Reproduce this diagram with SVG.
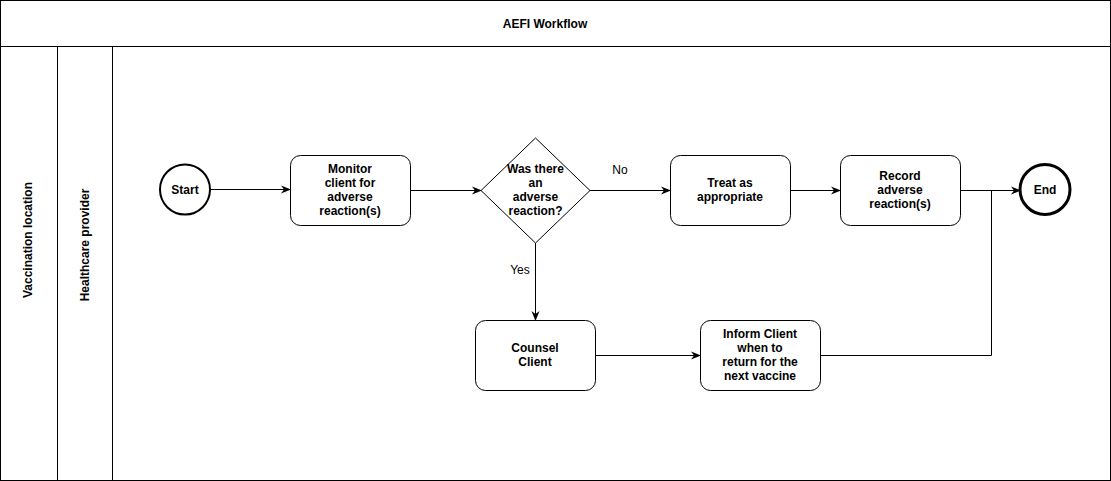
<svg xmlns="http://www.w3.org/2000/svg" width="1111" height="481" viewBox="0 0 1111 481">
<style>
text{font-family:"Liberation Sans",Arial,Helvetica,sans-serif;font-size:12px;font-weight:bold;fill:#000;text-anchor:middle}
.lbl{font-weight:normal}
.lane{fill:#fff;stroke:#000;stroke-width:1}
.box{fill:#fff;stroke:#000;stroke-width:1}
.con{fill:none;stroke:#000;stroke-width:1}
</style>
<defs>
<marker id="arr" viewBox="0 0 10 10" refX="9" refY="5" markerWidth="10" markerHeight="10" markerUnits="userSpaceOnUse" orient="auto">
<path d="M0,1 L10,5 L0,9 L3,5 Z" fill="#000"/>
</marker>
</defs>
<g id="pool">
<rect class="lane" x="0.5" y="0.5" width="1110" height="480"/>
<line class="lane" x1="0.5" y1="46.5" x2="1110.5" y2="46.5"/>
<text x="545" y="28">AEFI Workflow</text>
</g>
<g id="lane-vaccination-location">
<rect class="lane" x="0.5" y="46.5" width="57" height="434"/>
<text transform="translate(32,240) rotate(-90)">Vaccination location</text>
</g>
<g id="lane-healthcare-provider">
<rect class="lane" x="57.5" y="46.5" width="55" height="434"/>
<text transform="translate(89,245) rotate(-90)">Healthcare provider</text>
</g>
<g id="connectors">
<line class="con" x1="210" y1="189.5" x2="290" y2="189.5" marker-end="url(#arr)"/>
<line class="con" x1="410" y1="190.5" x2="481" y2="190.5" marker-end="url(#arr)"/>
<line class="con" x1="590" y1="190.5" x2="670" y2="190.5" marker-end="url(#arr)"/>
<text class="lbl" x="620" y="174">No</text>
<line class="con" x1="790" y1="190.5" x2="840" y2="190.5" marker-end="url(#arr)"/>
<line class="con" x1="960" y1="190.5" x2="1020" y2="190.5" marker-end="url(#arr)"/>
<line class="con" x1="535.5" y1="243" x2="535.5" y2="320" marker-end="url(#arr)"/>
<text class="lbl" x="520" y="274">Yes</text>
<line class="con" x1="595" y1="355.5" x2="700" y2="355.5" marker-end="url(#arr)"/>
<polyline class="con" points="821,355.5 991.5,355.5 991.5,190.5"/>
</g>
<g id="start">
<circle cx="185" cy="189.5" r="25" fill="#fff" stroke="#000" stroke-width="2"/>
<text x="185" y="194">Start</text>
</g>
<g id="monitor">
<rect class="box" x="290.5" y="155.5" width="120" height="70" rx="10"/>
<text x="350" y="173">Monitor</text>
<text x="350" y="187">client for</text>
<text x="350" y="201">adverse</text>
<text x="350" y="215">reaction(s)</text>
</g>
<g id="decision">
<polygon class="box" points="535.5,138 590,190.5 535.5,243 481,190.5"/>
<text x="535.5" y="173">Was there</text>
<text x="535.5" y="187">an</text>
<text x="535.5" y="201">adverse</text>
<text x="535.5" y="215">reaction?</text>
</g>
<g id="treat">
<rect class="box" x="670.5" y="155.5" width="120" height="70" rx="10"/>
<text x="730" y="187">Treat as</text>
<text x="730" y="201">appropriate</text>
</g>
<g id="record">
<rect class="box" x="840.5" y="155.5" width="120" height="70" rx="10"/>
<text x="900" y="180">Record</text>
<text x="900" y="194">adverse</text>
<text x="900" y="208">reaction(s)</text>
</g>
<g id="end">
<circle cx="1045" cy="189.5" r="25" fill="#fff" stroke="#000" stroke-width="3"/>
<text x="1045" y="194">End</text>
</g>
<g id="counsel">
<rect class="box" x="475.5" y="320.5" width="120" height="70" rx="10"/>
<text x="535" y="352">Counsel</text>
<text x="535" y="366">Client</text>
</g>
<g id="inform">
<rect class="box" x="700.5" y="320.5" width="120" height="70" rx="10"/>
<text x="760" y="338">Inform Client</text>
<text x="760" y="352">when to</text>
<text x="760" y="366">return for the</text>
<text x="760" y="380">next vaccine</text>
</g>
</svg>
